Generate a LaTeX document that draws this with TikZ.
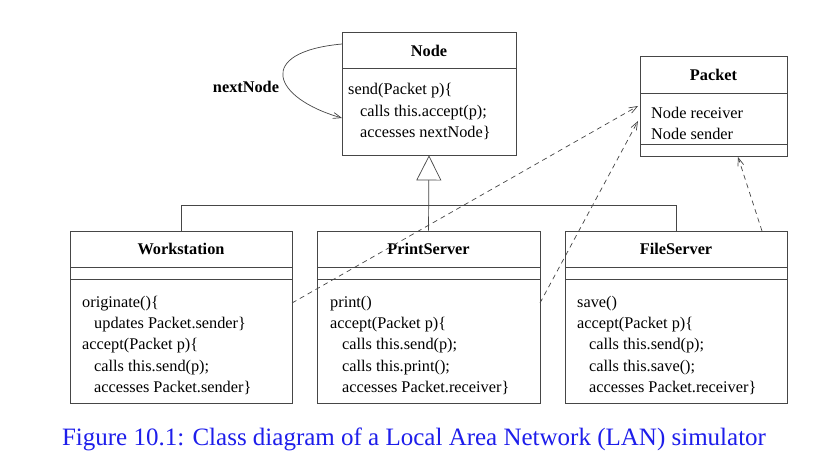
\documentclass[tikz,border=0pt]{standalone}
\usepackage{fontspec}
\setmainfont{Liberation Serif}
\usetikzlibrary{arrows.meta}
\definecolor{capblue}{RGB}{30,30,235}
\definecolor{linegray}{RGB}{70,70,70}
\tikzset{
  classbox/.style={draw=linegray, line width=0.8pt, rectangle, inner sep=0pt, fill=white},
  divider/.style={draw=linegray, line width=0.8pt},
  title/.style={font=\fontsize{16.3}{20}\selectfont\bfseries, inner sep=0pt, anchor=base},
  body/.style={font=\fontsize{16.3}{21.4}\selectfont, inner sep=0pt, anchor=base west, align=left},
  conn/.style={draw=linegray, line width=0.7pt},
  dep/.style={conn, dash pattern=on 5pt off 4pt, -{Straight Barb[length=8pt,width=6pt]}},
  gen/.style={conn, -{Triangle[open,length=25pt,width=25pt,fill=white]}},
}
\begin{document}
\begin{tikzpicture}[x=1pt,y=-1pt]
\useasboundingbox (0,0) rectangle (832,468);
\fill[white] (0,0) rectangle (832,468);

% class boxes
\node[classbox, minimum width=174pt, minimum height=123pt] (nodec) at (429,93.5) {};
\node[classbox, minimum width=147pt, minimum height=100pt] (packet) at (713.5,106) {};
\node[classbox, minimum width=222pt, minimum height=172pt] (ws) at (181,317) {};
\node[classbox, minimum width=223pt, minimum height=172pt] (ps) at (428.5,317) {};
\node[classbox, minimum width=222pt, minimum height=172pt] (fs) at (676,317) {};

% dividers
\draw[divider] (342,68) -- (516,68);
\draw[divider] (640,93) -- (787,93);
\draw[divider] (640,144) -- (787,144);
\foreach \a/\b in {70/292,317/540,565/787}{
  \draw[divider] (\a,267) -- (\b,267);
  \draw[divider] (\a,279) -- (\b,279);
}

% titles
\node[title] (tnode) at (429,57) {Node};
\node[title] (tpacket) at (713.5,81) {Packet};
\node[title] (tws) at (181,254) {Workstation};
\node[title] (tps) at (428.5,254) {PrintServer};
\node[title] (tfs) at (676,254) {FileServer};

% bodies (anchor = baseline of the last line)
\node[body] (bnode) at (348,137.5) {send(Packet p)\{\\\hspace{12pt}calls this.accept(p);\\\hspace{12pt}accesses nextNode\}};
\node[body] (bpacket) at (651,139.4) {Node receiver\\Node sender};
\node[body] (bws) at (82,392.6) {originate()\{\\\hspace{12pt}updates Packet.sender\}\\accept(Packet p)\{\\\hspace{12pt}calls this.send(p);\\\hspace{12pt}accesses Packet.sender\}};
\node[body] (bps) at (330,392.6) {print()\\accept(Packet p)\{\\\hspace{12pt}calls this.send(p);\\\hspace{12pt}calls this.print();\\\hspace{12pt}accesses Packet.receiver\}};
\node[body] (bfs) at (577,392.6) {save()\\accept(Packet p)\{\\\hspace{12pt}calls this.send(p);\\\hspace{12pt}calls this.save();\\\hspace{12pt}accesses Packet.receiver\}};

% self association
\coordinate (loopS) at (342,44);
\coordinate (loopE) at (342,118);
\draw[conn, -{Straight Barb[length=8pt,width=6pt]}] (loopS) .. controls (255,52) and (272,98) .. (loopE);
\node[title] (lbl) at (246,93) {nextNode};

% generalization
\coordinate (bus) at (428.5,205);
\draw[conn] (ws.north) -- (ws.north |- bus) -- (fs.north |- bus) -- (fs.north);
\draw[gen] (ps.north) -- (nodec.south);

% dependencies
\coordinate (wsS) at (292,303);
\coordinate (psS) at (540,303);
\coordinate (fsS) at (762,231);
\coordinate (pk1) at (638,106);
\coordinate (pk2) at (638,121);
\coordinate (pk3) at (738,157);
\draw[dep] (wsS) -- (pk1);
\draw[dep] (psS) -- (pk2);
\draw[dep] (fsS) -- (pk3);

% caption
\node[font=\fontsize{25}{30}\selectfont, text=capblue, inner sep=0pt, anchor=base] (cap) at (414,445) {Figure 10.1: Class diagram of a Local Area Network (LAN) simulator};
\end{tikzpicture}
\end{document}
